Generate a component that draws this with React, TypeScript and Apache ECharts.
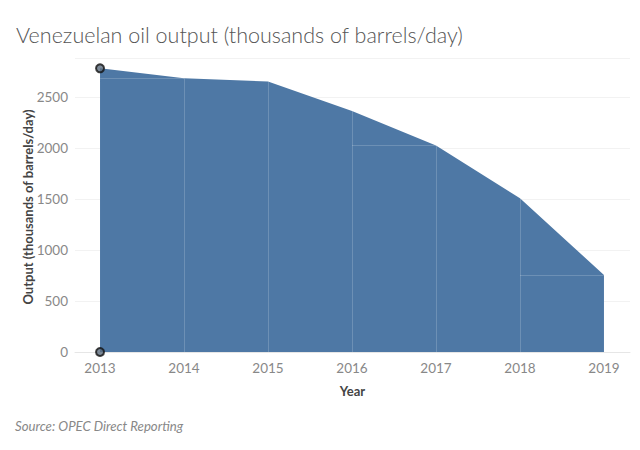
import React, { useEffect, useRef } from "react";
import * as echarts from "echarts";

const years = [2013, 2014, 2015, 2016, 2017, 2018, 2019];
const output = [2779, 2681, 2650, 2362, 2022, 1507, 754];
const yTicks = [0, 500, 1000, 1500, 2000, 2500];
const titleText = "Venezuelan oil output (thousands of barrels/day)";
const sourceText = "Source: OPEC Direct Reporting";
const markerPoints = [
  [2013, 2779],
  [2013, 0],
];

export default function App() {
  const ref = useRef<HTMLDivElement>(null);
  useEffect(() => {
    if (!ref.current) return;
    document.body.style.margin = "0";
    const chart = echarts.init(ref.current, undefined, { renderer: "svg" });
    const font = "Lato, 'Open Sans', sans-serif";
    const seams: any[] = [];
    for (let i = 1; i < years.length - 1; i++) {
      seams.push([
        { coord: [years[i], 0] },
        { coord: [years[i], output[i]] },
      ]);
    }
    const flats = [0, 3, 5];
    flats.forEach((i) => {
      seams.push([
        { coord: [years[i], output[i + 1]] },
        { coord: [years[i + 1], output[i + 1]] },
      ]);
    });
    chart.setOption({
      animation: false,
      textStyle: { fontFamily: font },
      title: {
        text: titleText,
        left: 11,
        top: 19,
        textStyle: { fontSize: 21.5, fontWeight: 300, color: "#555", fontFamily: font },
      },
      graphic: [
        {
          type: "text",
          left: 15,
          top: 419,
          style: {
            text: sourceText,
            fontSize: 13.2,
            fontStyle: "italic",
            fill: "#888",
            fontFamily: font,
          },
        },
      ],
      grid: { left: 75, right: 10, top: 58, bottom: 98 },
      xAxis: {
        type: "value",
        min: 2012.702,
        max: 2019.31,
        name: "Year",
        nameLocation: "middle",
        nameGap: 32,
        nameTextStyle: { fontSize: 13, fontWeight: "bold", color: "#444" },
        axisLine: { show: true, lineStyle: { color: "#e6e6e6" } },
        axisTick: { show: false },
        splitLine: { show: false },
        axisLabel: {
          customValues: years,
          color: "#888",
          fontSize: 13.5,
          margin: 9,
          formatter: (v: number) => String(v),
        },
      },
      yAxis: {
        type: "value",
        min: 0,
        max: 2880,
        name: "Output (thousands of barrels/day)",
        nameLocation: "middle",
        nameGap: 41,
        nameMoveOverlap: false,
        nameTextStyle: {
          fontSize: 13,
          fontWeight: "bold",
          color: "#444",
          padding: [0, 4, 0, 0],
        },
        axisLine: { show: false },
        axisTick: { show: false },
        splitLine: { show: true, lineStyle: { color: "#f2f2f2" } },
        axisLabel: {
          customValues: yTicks,
          color: "#888",
          fontSize: 13.5,
          margin: 7,
          formatter: (v: number) => String(v),
        },
      },
      series: [
        {
          type: "line",
          data: years.map((y, i) => [y, output[i]]),
          showSymbol: false,
          lineStyle: { width: 0 },
          areaStyle: { color: "#4e78a5", opacity: 1 },
          markLine: {
            silent: true,
            symbol: ["none", "none"],
            label: { show: false },
            lineStyle: { color: "rgba(255,255,255,0.18)", width: 1, type: "solid" },
            data: seams,
          },
        },
        {
          type: "scatter",
          data: markerPoints,
          symbolSize: 8,
          itemStyle: { color: "#5d6d7e", borderColor: "#111", borderWidth: 2 },
          z: 5,
        },
      ],
    });
    return () => chart.dispose();
  }, []);
  return <div ref={ref} style={{ width: 640, height: 450 }} />;
}
